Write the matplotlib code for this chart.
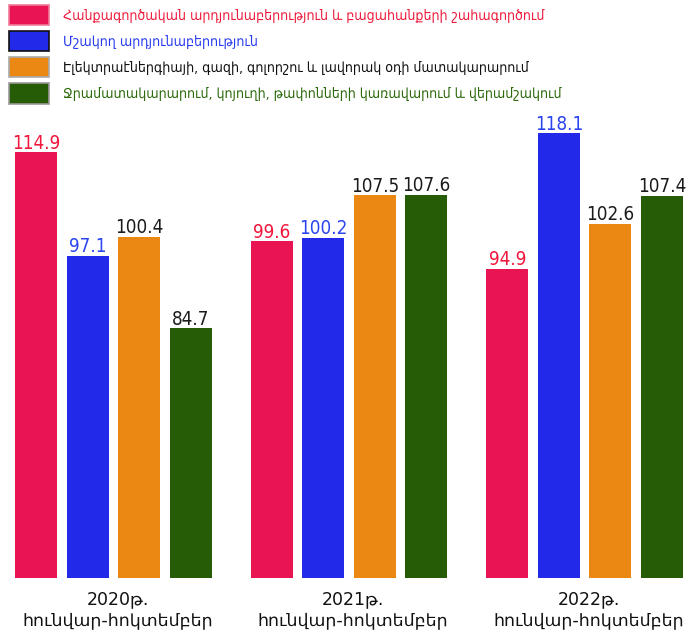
import numpy as np
import matplotlib.pyplot as plt
from matplotlib.patches import Patch

periods = ["2020թ.\nհունվար-հոկտեմբեր", "2021թ.\nհունվար-հոկտեմբեր", "2022թ.\nհունվար-հոկտեմբեր"]
series_names = [
    "Հանքագործական արդյունաբերություն և բացահանքերի շահագործում",
    "Մշակող արդյունաբերություն",
    "Էլեկտրաէներգիայի, գազի, գոլորշու և լավորակ օդի մատակարարում",
    "Ջրամատակարարում, կոյուղի, թափոնների կառավարում և վերամշակում",
]
mining = [114.9, 99.6, 94.9]
manufacturing = [97.1, 100.2, 118.1]
electricity = [100.4, 107.5, 102.6]
water = [84.7, 107.6, 107.4]

colors = ["#e91553", "#2329e8", "#ea8813", "#275c06"]
edge_colors = ["#f07a98", "#111111", "#aaaaaa", "#999999"]
label_colors = ["#f0163c", "#2a44f0", "#1a1a1a", "#1a1a1a"]
legend_text_colors = ["#ee1c3c", "#2a3cf0", "#111111", "#2d6a0c"]

W, H = 692, 632
fig = plt.figure(figsize=(W / 100, H / 100), dpi=100)
fig.patch.set_facecolor("white")
ax = fig.add_axes([0, (H - 578) / H, 1, 578 / H])
ax.axis("off")

x = np.arange(len(periods))
pitch = 51.5 / 235.6
width = 42 / 235.6
all_series = [mining, manufacturing, electricity, water]
for i, vals in enumerate(all_series):
    xs = x + (i - 1.5) * pitch
    ax.bar(xs, vals, width, bottom=0, color=colors[i], linewidth=0)
    for xx, v in zip(xs, vals):
        ax.annotate(f"{v:.1f}", (xx, v), xytext=(0, 2.5), textcoords="offset points",
                    ha="center", va="baseline", fontsize=13.5, color=label_colors[i],
                    family="DejaVu Sans", stretch="condensed")

ax.set_xlim(-113.5 / 235.6, (W - 113.5) / 235.6)
ax.set_ylim(41.8, 141.0)

for xx, lab in zip(x, periods):
    ax.annotate(lab, (xx + 0.017, 0), xycoords=("data", "axes fraction"),
                xytext=(0, -9), textcoords="offset points", ha="center", va="top",
                fontsize=12.5, color="#111111", family="DejaVu Sans",
                linespacing=1.2, annotation_clip=False)

handles = [Patch(facecolor=c, edgecolor=e, linewidth=1.2) for c, e in zip(colors, edge_colors)]
leg = fig.legend(handles, series_names, loc="upper left",
                 bbox_to_anchor=(9 / W, 1 - 5 / H), frameon=False,
                 borderpad=0, borderaxespad=0, handlelength=2.8, handleheight=1.837,
                 handletextpad=1.0, labelspacing=0.4,
                 prop={"family": "DejaVu Sans", "stretch": "condensed", "size": 10.2})
for t, c in zip(leg.get_texts(), legend_text_colors):
    t.set_color(c)

fig.savefig("out.png", dpi=100)
